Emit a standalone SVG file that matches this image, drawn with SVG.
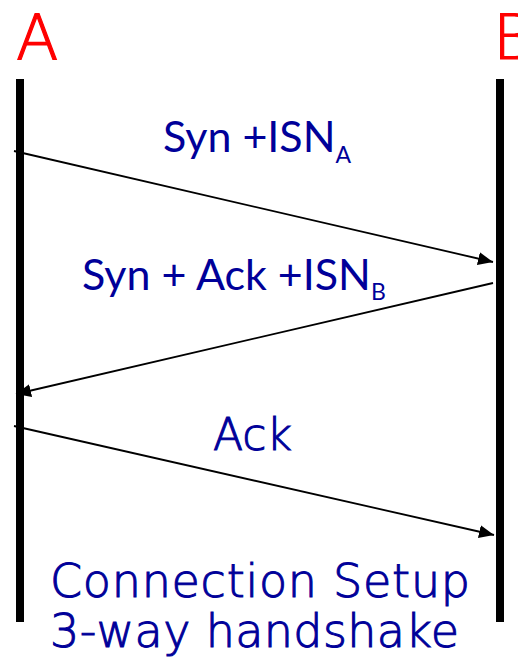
<svg xmlns="http://www.w3.org/2000/svg" width="518" height="663" viewBox="0 0 518 663">
  <style>
    .host { font-family: "DejaVu Sans ExtraLight", "DejaVu Sans", sans-serif; font-weight: 200; font-size: 62px; fill: #FF0000; stroke: #FF0000; stroke-width: 1.2; }
    .life { stroke: #000000; stroke-width: 8; }
    .msg { stroke: #000000; stroke-width: 1.8; fill: none; marker-end: url(#head); }
    .lbl { font-family: Lato, "Open Sans", sans-serif; font-size: 43px; fill: #000099; }
    .sub { font-size: 23px; }
    .cap { font-family: "DejaVu Sans ExtraLight", "DejaVu Sans", sans-serif; font-weight: 200; fill: #000099; stroke: #000099; stroke-width: 1; }
  </style>
  <defs>
    <marker id="head" markerUnits="userSpaceOnUse" markerWidth="16" markerHeight="14" refX="15" refY="6.5" orient="auto">
      <path d="M0,0 L15,6.5 L0,13 z" fill="#000000"/>
    </marker>
  </defs>

  <rect width="518" height="663" fill="#FFFFFF"/>

  <!-- endpoints with their lifelines -->
  <g id="hostA">
    <text class="host" x="16" y="59">A</text>
    <line class="life" x1="20" y1="79" x2="20" y2="622"/>
  </g>
  <g id="hostB">
    <text class="host" x="493" y="59">B</text>
    <line class="life" x1="500" y1="79" x2="500" y2="622"/>
  </g>

  <!-- handshake messages -->
  <g id="connectors">
    <line class="msg" x1="14" y1="151" x2="493" y2="262"/>
    <line class="msg" x1="493" y1="283" x2="16" y2="394"/>
    <line class="msg" x1="14" y1="426" x2="494" y2="535"/>
  </g>

  <g id="label-syn">
    <text class="lbl" x="163" y="152">Syn +ISN<tspan class="sub" dy="11">A</tspan></text>
  </g>
  <g id="label-synack">
    <text class="lbl" x="82" y="290">Syn + Ack +ISN<tspan class="sub" dy="10">B</tspan></text>
  </g>
  <g id="label-ack">
    <text class="cap" x="213" y="450" font-size="44">Ack</text>
  </g>

  <g id="caption">
    <text class="cap" x="50" y="597" font-size="46" textLength="420">Connection Setup</text>
    <text class="cap" x="50" y="647" font-size="46" textLength="409">3-way handshake</text>
  </g>
</svg>
